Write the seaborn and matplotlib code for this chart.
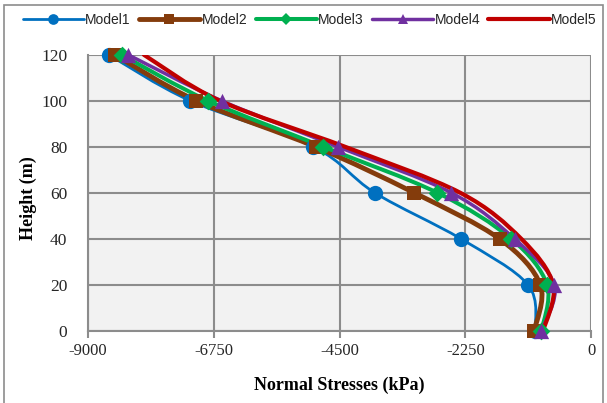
import numpy as np
import pandas as pd
import seaborn as sns
import matplotlib
matplotlib.use("Agg")
import matplotlib.pyplot as plt
from matplotlib.path import Path
from matplotlib.patches import PathPatch, Rectangle
from matplotlib.lines import Line2D

heights = [0, 20, 40, 60, 80, 100, 120]
model1 = [-1000, -1130, -2330, -3870, -4970, -7170, -8630]
model2 = [-1020, -910, -1640, -3165, -4930, -7060, -8520]
model3 = [-890, -790, -1430, -2750, -4790, -6850, -8400]
model4 = [-890, -660, -1370, -2500, -4530, -6610, -8280]
model5 = [-860, -680, -1250, -2340, -4400, -6640, -8000]

series_names = ["Model1", "Model2", "Model3", "Model4", "Model5"]
series_values = [model1, model2, model3, model4, model5]
x_ticks = [-9000, -6750, -4500, -2250, 0]
y_ticks = [0, 20, 40, 60, 80, 100, 120]

colors = ["#0070C0", "#843C0C", "#00B050", "#7030A0", "#C00000"]
markers = ["o", "s", "D", "^", None]
marker_sizes = [11, 10, 9, 11, 0]
line_widths = [2.0, 3.5, 2.9, 2.5, 3.0]

sns.set_theme(style="white")
serif = ["Liberation Serif", "DejaVu Serif"]
sans = ["Liberation Sans", "DejaVu Sans"]

fig = plt.figure(figsize=(6.07, 4.03), dpi=100)
ax = fig.add_axes([0.145, 0.179, 0.829, 0.685])
ax.set_facecolor("#F2F2F2")

frame = Rectangle((0.006, -0.02), 0.988, 1.008, transform=fig.transFigure,
                  fill=False, edgecolor="#8C8C8C", linewidth=1.2, zorder=0)
fig.patches.append(frame)


def smooth_path(xs, ys):
    """Cubic Bezier path through the points, Catmull-Rom style tangents."""
    pts = np.column_stack([xs, ys]).astype(float)
    n = len(pts)
    verts = [pts[0]]
    codes = [Path.MOVETO]
    for i in range(n - 1):
        p0 = pts[i - 1] if i > 0 else pts[i]
        p1 = pts[i]
        p2 = pts[i + 1]
        p3 = pts[i + 2] if i + 2 < n else pts[i + 1]
        c1 = p1 + (p2 - p0) / 6.0
        c2 = p2 - (p3 - p1) / 6.0
        verts += [c1, c2, p2]
        codes += [Path.CURVE4] * 3
    return Path(verts, codes)


handles = []
for name, vals, col, mk, ms, lw in zip(series_names, series_values, colors,
                                       markers, marker_sizes, line_widths):
    patch = PathPatch(smooth_path(vals, heights), facecolor="none",
                      edgecolor=col, linewidth=lw, capstyle="round",
                      joinstyle="round", zorder=3)
    ax.add_patch(patch)
    if mk is not None:
        df = pd.DataFrame({"stress": vals, "height": heights})
        sns.scatterplot(data=df, x="stress", y="height", ax=ax, marker=mk,
                        s=ms ** 2, color=col, edgecolor=col, linewidth=0,
                        zorder=4, clip_on=False, legend=False)
    handles.append(Line2D([], [], color=col, linewidth=lw, marker=mk,
                          markersize=ms * 0.7, markeredgewidth=0))

ax.set_xlim(-9000, 0)
ax.set_ylim(0, 120)
ax.set_xticks(x_ticks)
ax.set_yticks(y_ticks)
ax.set_xticklabels([str(t) for t in x_ticks], fontfamily=serif, fontsize=12)
ax.set_yticklabels([str(t) for t in y_ticks], fontfamily=serif, fontsize=12.5)
ax.grid(True, color="#8C8C8C", linewidth=1.5)
ax.set_axisbelow(True)
for side in ["top", "right"]:
    ax.spines[side].set_visible(False)
for side in ["left", "bottom"]:
    ax.spines[side].set_color("#8C8C8C")
    ax.spines[side].set_linewidth(1.5)
ax.tick_params(axis="x", direction="out", length=5, width=1.5,
               color="#8C8C8C", pad=4, bottom=True)
ax.tick_params(axis="y", direction="out", length=0, pad=15, left=True)

ax.set_xlabel("Normal Stresses (kPa)", fontfamily=serif, fontsize=13,
              fontweight="bold", color="black")
ax.set_ylabel("Height (m)", fontfamily=serif, fontsize=13,
              fontweight="bold", color="black")
ax.xaxis.set_label_coords(0.5, -0.196)
ax.yaxis.set_label_coords(-0.118, 0.48)
ax.xaxis.label.set_verticalalignment("center")
ax.yaxis.label.set_verticalalignment("center")

fig.legend(handles, series_names, loc="center", bbox_to_anchor=(0.51, 0.95),
           ncol=5, frameon=False, handlelength=4.4, handletextpad=0.1,
           columnspacing=0.6, prop={"family": sans, "size": 10})

fig.savefig("out.png", dpi=100)
